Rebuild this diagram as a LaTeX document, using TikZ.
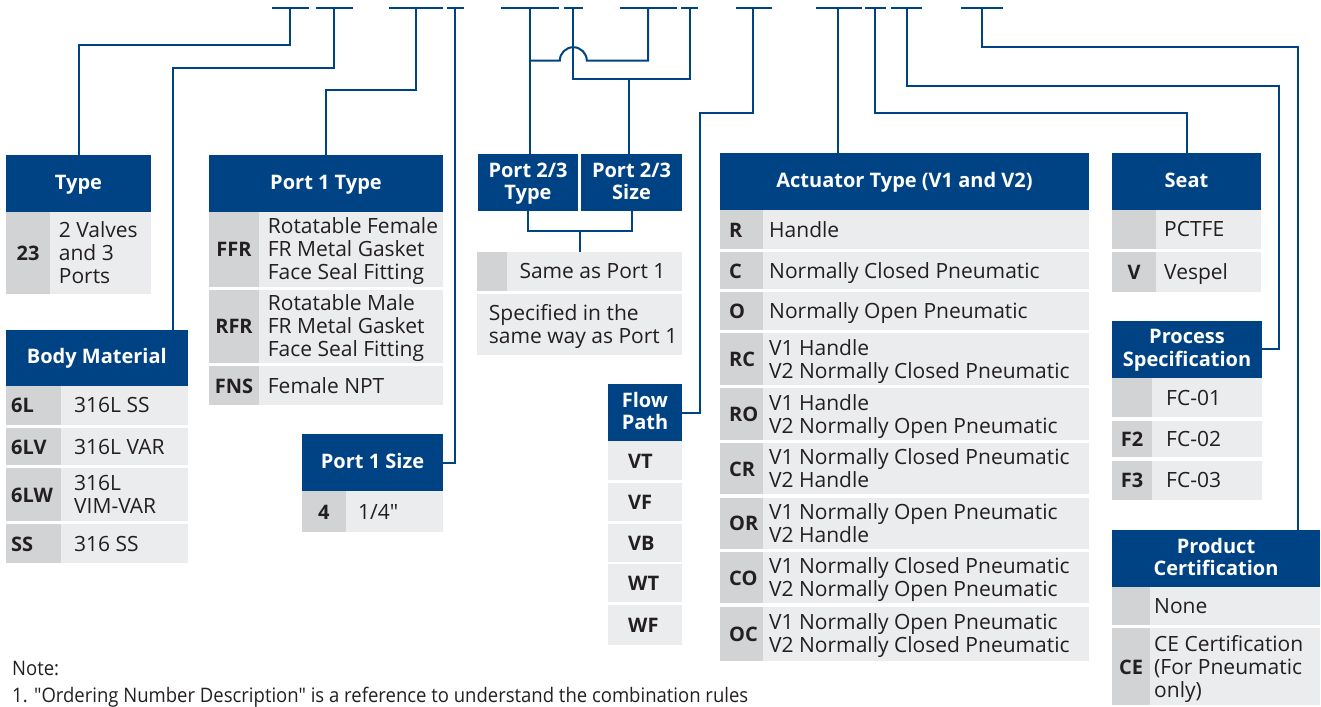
\documentclass[tikz,border=0pt]{standalone}
\usepackage{fontspec}
\setmainfont{Open Sans}[Ligatures=TeXOff]
\usepackage{graphicx}
\definecolor{hblue}{RGB}{0,67,133}
\definecolor{kgray}{RGB}{209,211,212}
\definecolor{vgray}{RGB}{235,236,237}
\definecolor{tdark}{RGB}{35,31,32}
\newcommand\vfont{\fontsize{21}{23}\selectfont}
\newcommand\kfont{\bfseries\fontsize{20}{23}\selectfont}
\newcommand\hfont{\bfseries\fontsize{20}{22.5}\selectfont}
\newcommand\st{\rule[-6pt]{0pt}{23pt}}
\newcommand\hst{\rule[-6pt]{0pt}{22.5pt}}
\tikzset{
  box/.style={inner sep=0pt, outer sep=0pt, anchor=north west, draw=none},
  htext/.style={text=white, font=\hfont, align=center, inner sep=0pt, yshift=-0.5pt},
  ktext/.style={text=tdark, font=\kfont, inner sep=0pt, yshift=-2pt},
  vtext/.style={text=tdark, font=\vfont, align=left, inner sep=0pt, anchor=west, yshift=-2pt},
  conn/.style={draw=hblue, line width=2pt},
}
\newcommand\cellbox[6]{\node[box, fill=#6, minimum width={#4-#2}, minimum height={#5-#3}] (#1) at (#2,#3) {};}
\newcommand\hdr[6]{\cellbox{#1}{#2}{#3}{#4}{#5}{hblue}\node[htext] (#1t) at (#1.center) {#6};}
\newcommand\kvrow[9]{%
  \cellbox{#1k}{#2}{#5}{#3}{#6}{kgray}
  \cellbox{#1v}{#3}{#5}{#4}{#6}{vgray}
  \node[ktext] (#1kt) at (#1k.center) {#7};
  \node[vtext] (#1vt) at (#8,{(#5+#6)/2}) {#9};}
\newcommand\kvrowl[9]{%
  \cellbox{#1k}{#2}{#5}{#3}{#6}{kgray}
  \cellbox{#1v}{#3}{#5}{#4}{#6}{vgray}
  \node[ktext, anchor=west] (#1kt) at (\keyx,{(#5+#6)/2}) {#7};
  \node[vtext] (#1vt) at (#8,{(#5+#6)/2}) {#9};}
\begin{document}
\begin{tikzpicture}[x=1pt,y=-1pt]
\useasboundingbox (0,0) rectangle (1321,706);
% ---------- Type
\hdr{typeh}{6}{155}{151}{212}{\hst Type}
\kvrow{ty1}{6}{50}{151}{212}{294}{\st 23}{58.7}{\st 2 Valves\\\st and 3\\\st Ports}
% ---------- Port 1 Type
\hdr{p1th}{209}{155}{443}{212}{\hst Port 1 Type}
\kvrow{pt1}{209}{259}{443}{212}{286.7}{\st FFR}{267.7}{\st Rotatable Female\\\st FR Metal Gasket\\\st Face Seal Fitting}
\kvrow{pt2}{209}{259}{443}{290}{362.7}{\st RFR}{267.7}{\st Rotatable Male\\\st FR Metal Gasket\\\st Face Seal Fitting}
\kvrow{pt3}{209}{259}{443}{366}{405}{\st FNS}{267.7}{\st Female NPT}
% ---------- Body Material
\hdr{bmh}{6}{330}{187.7}{385.7}{\hst Body Material}
\def\keyx{11}
\kvrowl{bm1}{6}{61}{187.7}{385.7}{424.7}{\st 6L}{74}{\st 316L SS}
\kvrowl{bm2}{6}{61}{187.7}{428}{465}{\st 6LV}{74}{\st 316L VAR}
\kvrowl{bm3}{6}{61}{187.7}{468.3}{521}{\st 6LW}{74}{\st 316L\\\st VIM-VAR}
\kvrowl{bm4}{6}{61}{187.7}{524.3}{562.7}{\st SS}{74}{\st 316 SS}
% ---------- Port 1 Size
\hdr{p1sh}{302}{434}{443}{491.3}{\hst Port 1 Size}
\kvrow{ps1}{302}{345.7}{443}{491.3}{531.7}{\st 4}{358}{\st 1/4"}
% ---------- Port 2/3
\hdr{p23th}{478}{154}{578}{211}{\hst Port 2/3\\\hst Type}
\hdr{p23sh}{581}{154}{682}{211}{\hst Port 2/3\\\hst Size}
\cellbox{sk1}{477}{252}{507}{290.7}{kgray}
\cellbox{sv1}{507}{252}{682}{290.7}{vgray}
\node[vtext] (sv1t) at (519.3,271.35) {\st Same as Port 1};
\cellbox{sv2}{477}{294}{682}{354.7}{vgray}
\node[vtext] (sv2t) at (488.7,324.35) {\st Specified in the\\\st same way as Port 1};
% ---------- Flow Path
\hdr{fph}{608}{384}{682}{441}{\hst Flow\\\hst Path}
\cellbox{fp1}{608}{441}{682}{480}{vgray}
\node[ktext, anchor=west] (fp1t) at (628,460.5) {\st VT};
\cellbox{fp2}{608}{483.3}{682}{520.7}{vgray}
\node[ktext, anchor=west] (fp2t) at (628,502) {\st VF};
\cellbox{fp3}{608}{524}{682}{561.7}{vgray}
\node[ktext, anchor=west] (fp3t) at (628,542.85) {\st VB};
\cellbox{fp4}{608}{564.3}{682}{601.7}{vgray}
\node[ktext, anchor=west] (fp4t) at (628,583) {\st WT};
\cellbox{fp5}{608}{605}{682}{645}{vgray}
\node[ktext, anchor=west] (fp5t) at (628,625) {\st WF};
% ---------- Actuator
\hdr{ath}{720}{153}{1089}{210}{\hst Actuator Type (V1 and V2)}
\def\keyx{729}
\kvrowl{a1}{720}{762.7}{1089}{210}{249}{\st R}{769}{\st Handle}
\kvrowl{a2}{720}{762.7}{1089}{252}{289}{\st C}{769}{\st Normally Closed Pneumatic}
\kvrowl{a3}{720}{762.7}{1089}{292}{330}{\st O}{769}{\st Normally Open Pneumatic}
\kvrowl{a4}{720}{762.7}{1089}{333}{385}{\st RC}{769}{\st V1 Handle\\\st V2 Normally Closed Pneumatic}
\kvrowl{a5}{720}{762.7}{1089}{388}{440}{\st RO}{769}{\st V1 Handle\\\st V2 Normally Open Pneumatic}
\kvrowl{a6}{720}{762.7}{1089}{443}{494}{\st CR}{769}{\st V1 Normally Closed Pneumatic\\\st V2 Handle}
\kvrowl{a7}{720}{762.7}{1089}{497.5}{549}{\st OR}{769}{\st V1 Normally Open Pneumatic\\\st V2 Handle}
\kvrowl{a8}{720}{762.7}{1089}{552}{603}{\st CO}{769}{\st V1 Normally Closed Pneumatic\\\st V2 Normally Open Pneumatic}
\kvrowl{a9}{720}{762.7}{1089}{606.5}{660.5}{\st OC}{769}{\st V1 Normally Open Pneumatic\\\st V2 Normally Closed Pneumatic}
% ---------- Seat
\hdr{seath}{1112}{153}{1261}{210}{\hst Seat}
\kvrow{se1}{1112}{1156}{1261}{210}{248.7}{}{1164}{\st PCTFE}
\kvrow{se2}{1112}{1156}{1261}{252}{291.7}{\st V}{1164}{\st Vespel}
% ---------- Process Specification
\hdr{psh}{1112}{321}{1262}{377.7}{\hst Process\\\hst Specification}
\kvrow{pr1}{1112}{1152}{1262}{377.7}{417.3}{}{1166}{\st FC-01}
\kvrow{pr2}{1112}{1152}{1262}{420.7}{457.3}{\st F2}{1166}{\st FC-02}
\kvrow{pr3}{1112}{1152}{1262}{460.7}{500}{\st F3}{1166}{\st FC-03}
% ---------- Product Certification
\hdr{pch}{1112}{530}{1320}{587.3}{\hst Product\\\hst Certification}
\kvrow{pc1}{1112}{1150}{1320}{587.3}{625}{}{1154}{\st None}
\kvrow{pc2}{1112}{1150}{1320}{628.3}{705.3}{\st CE}{1154}{\st CE Certification\\\st (For Pneumatic\\\st only)}
% ---------- Note
\node[inner sep=0pt, anchor=north west, text=tdark] (note) at (12,656)
  {\resizebox{736pt}{\height}{\fontsize{20}{27}\selectfont\begin{tabular}{@{}l@{}}Note:\\1. "Ordering Number Description" is a reference to understand the combination rules\end{tabular}}};
% ---------- top code bars
\foreach \a/\b in {271.5/308.5, 315.5/353.3, 389.3/442.5, 447/464.3, 501/559.3, 564/582.7, 620/676.7, 681/698.3, 736/771.7, 815.7/861.7, 865.3/885.7, 891/922.3, 960.7/1003.3}
  \draw[conn] (\a,8.3) -- (\b,8.3);
\coordinate (d1) at (290,8.3);
\coordinate (d2) at (334.3,8.3);
\coordinate (d3) at (415.5,8.3);
\coordinate (d4) at (455,8.3);
\coordinate (d5) at (530.3,8.3);
\coordinate (d6) at (573.3,8.3);
\coordinate (d7) at (648,8.3);
\coordinate (d8) at (690.3,8.3);
\coordinate (d9) at (753.3,8.3);
\coordinate (d10) at (837.7,8.3);
\coordinate (d11) at (875,8.3);
\coordinate (d12) at (906.7,8.3);
\coordinate (d13) at (981.7,8.3);
\coordinate (bmx) at (173,330);
\coordinate (j1) at (530.3,60.7);
\coordinate (j2) at (690.3,78.7);
\coordinate (j3) at (629,78.7);
\coordinate (j4) at (579.5,231.3);
\coordinate (pcx) at (1298,530);
% ---------- connectors
\draw[conn] (d1) -- (290,45) -| (typeh.north);
\draw[conn] (d2) -- (334.3,68.3) -| (bmx);
\draw[conn] (d3) -- (415.5,90) -| (p1th.north);
\draw[conn] (d4) |- (p1sh.east);
\draw[conn] (d5) -- (p23th.north -| d5);
\draw[conn] (d7) |- (586.8,60.7) arc[start angle=0, end angle=180, radius=13.5pt] -- (j1);
\draw[conn] (d6) |- (j2) -- (d8);
\draw[conn] (j3) -- (p23sh.north -| j3);
\draw[conn] (p23th.south) |- (j4) -| (p23sh.south);
\draw[conn] (j4) -- (sv1.north -| j4);
\draw[conn] (d9) -- (753.3,113) -- (700,113) |- (fph.east);
\draw[conn] (d10) -- (ath.north -| d10);
\draw[conn] (d11) -- (875,113) -| (seath.north);
\draw[conn] (d12) -- (906.7,86) -- (1279,86) |- (psh.east);
\draw[conn] (d13) -- (981.7,47.3) -| (pcx);
\end{tikzpicture}
\end{document}
